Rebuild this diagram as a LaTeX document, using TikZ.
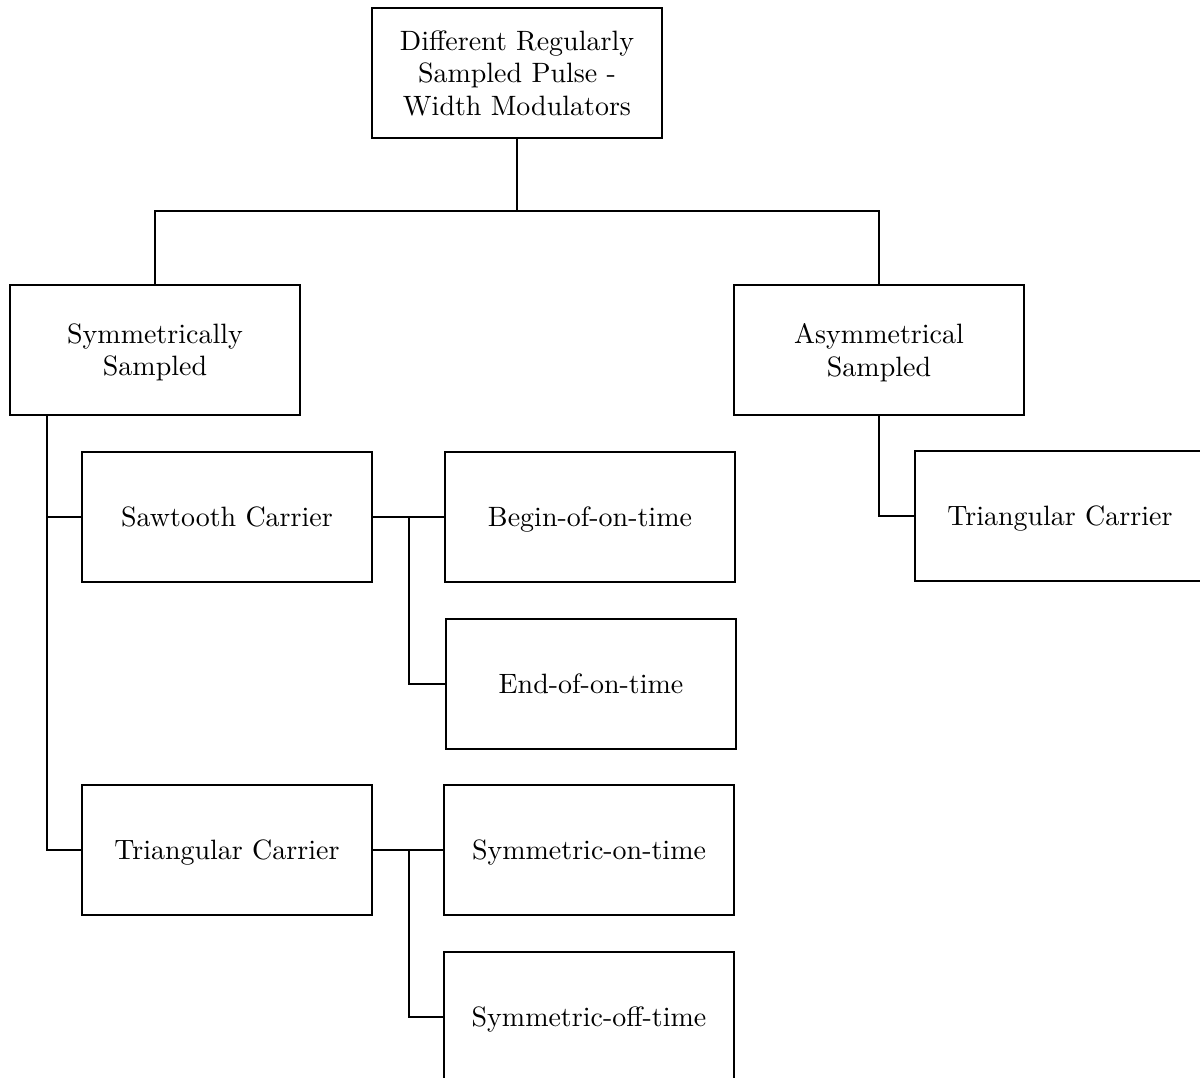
\documentclass[tikz,border=0pt]{standalone}
\usetikzlibrary{calc}
\begin{document}
\begin{tikzpicture}[x=0.013cm, y=-0.013cm,
  box/.style={draw, line width=0.55pt, minimum width=3.77cm, minimum height=1.69cm,
    align=center, inner sep=2pt, text depth=0pt,
    font=\fontsize{10.35pt}{11.9pt}\selectfont},
  link/.style={draw, line width=0.55pt}]
  \useasboundingbox (0,0) rectangle (1200,1078);
  \clip (0,0) rectangle (1200,1078);

  % boxes
  \node[box] (top)    at (517,73)   {Different Regularly\\Sampled Pulse -\\Width Modulators};
  \node[box] (sym)    at (155,350)  {Symmetrically\\Sampled};
  \node[box] (asym)   at (879,350)  {Asymmetrical\\Sampled};
  \node[box] (saw)    at (227,517)  {Sawtooth Carrier};
  \node[box] (begin)  at (590,517)  {Begin-of-on-time};
  \node[box] (endt)   at (591,684)  {End-of-on-time};
  \node[box] (tri)    at (227,850)  {Triangular Carrier};
  \node[box] (symon)  at (589,850)  {Symmetric-on-time};
  \node[box] (symoff) at (589,1017) {Symmetric-off-time};
  \node[box] (tri2)   at (1060,516) {Triangular Carrier};

  % junction points
  \coordinate (j)  at (517,211);
  \coordinate (sp) at (47,415);
  \coordinate (s1) at (409,517);
  \coordinate (s2) at (409,850);

  % connectors
  \draw[link] (top.south) -- (j);
  \draw[link] (sym.north) |- (j) -| (asym.north);
  \draw[link] (sp) |- (saw.west);
  \draw[link] (sp) |- (tri.west);
  \draw[link] (saw.east) -- (begin.west);
  \draw[link] (s1) |- (endt.west);
  \draw[link] (tri.east) -- (symon.west);
  \draw[link] (s2) |- (symoff.west);
  \draw[link] (asym.south) |- (tri2.west);
\end{tikzpicture}
\end{document}
